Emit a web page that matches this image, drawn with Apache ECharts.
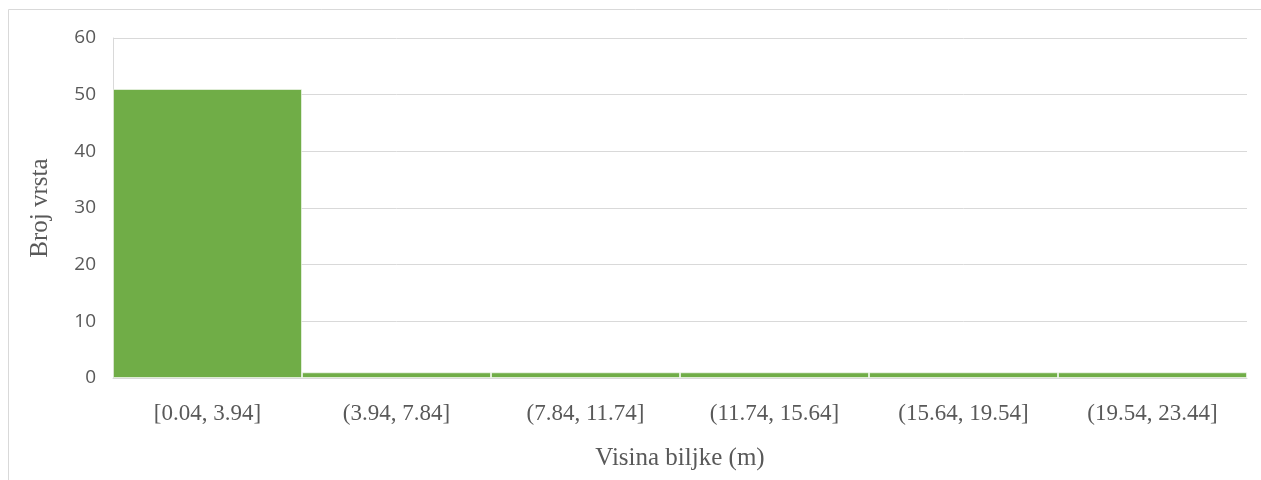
<!DOCTYPE html>
<html>
<head>
<meta charset="utf-8">
<script src="https://cdn.jsdelivr.net/npm/echarts@6/dist/echarts.min.js"></script>
<style>html,body{margin:0;padding:0;background:#fff}#c{width:1261px;height:480px}</style>
</head>
<body>
<div id="c"></div>
<script>
const categories = ['[0.04, 3.94]', '(3.94, 7.84]', '(7.84, 11.74]', '(11.74, 15.64]', '(15.64, 19.54]', '(19.54, 23.44]'];
const counts = [51, 1, 1, 1, 1, 1];
const yTicks = { min: 0, max: 60, interval: 10 };
const xTitle = 'Visina biljke (m)';
const yTitle = 'Broj vrsta';

const chart = echarts.init(document.getElementById('c'), null, { renderer: 'canvas' });
chart.setOption({
  animation: false,
  backgroundColor: '#fff',
  graphic: [{
    type: 'rect', silent: true,
    shape: { x: 8.5, y: 9.5, width: 1400, height: 600 },
    style: { fill: 'none', stroke: '#d9d9d9', lineWidth: 1 }
  }],
  grid: { left: 113, right: 14, top: 38, bottom: 102, outerBoundsMode: 'none', containLabel: false },
  xAxis: {
    type: 'category',
    data: categories,
    name: xTitle,
    nameLocation: 'middle',
    nameGap: 68,
    nameTextStyle: { fontFamily: 'Liberation Serif', fontSize: 25, color: '#595959' },
    axisLine: { show: true, lineStyle: { color: '#d9d9d9', width: 1 } },
    axisTick: { show: false },
    axisLabel: { fontFamily: 'Liberation Serif', fontSize: 23, color: '#595959', margin: 24 }
  },
  yAxis: {
    type: 'value',
    min: yTicks.min, max: yTicks.max, interval: yTicks.interval,
    name: yTitle,
    nameLocation: 'middle',
    nameGap: 60,
    nameTextStyle: { fontFamily: 'Liberation Serif', fontSize: 25, color: '#595959' },
    axisLine: { show: true, lineStyle: { color: '#d9d9d9', width: 1 } },
    axisTick: { show: false },
    splitLine: { lineStyle: { color: '#d9d9d9', width: 1 } },
    axisLabel: { fontFamily: 'Open Sans', fontSize: 19, color: '#595959', margin: 17 }
  },
  series: [{
    type: 'bar',
    data: counts,
    barCategoryGap: '0%',
    itemStyle: { color: '#70AD47', borderColor: 'rgba(255,255,255,0.55)', borderWidth: 1 }
  }]
});
</script>
</body>
</html>
